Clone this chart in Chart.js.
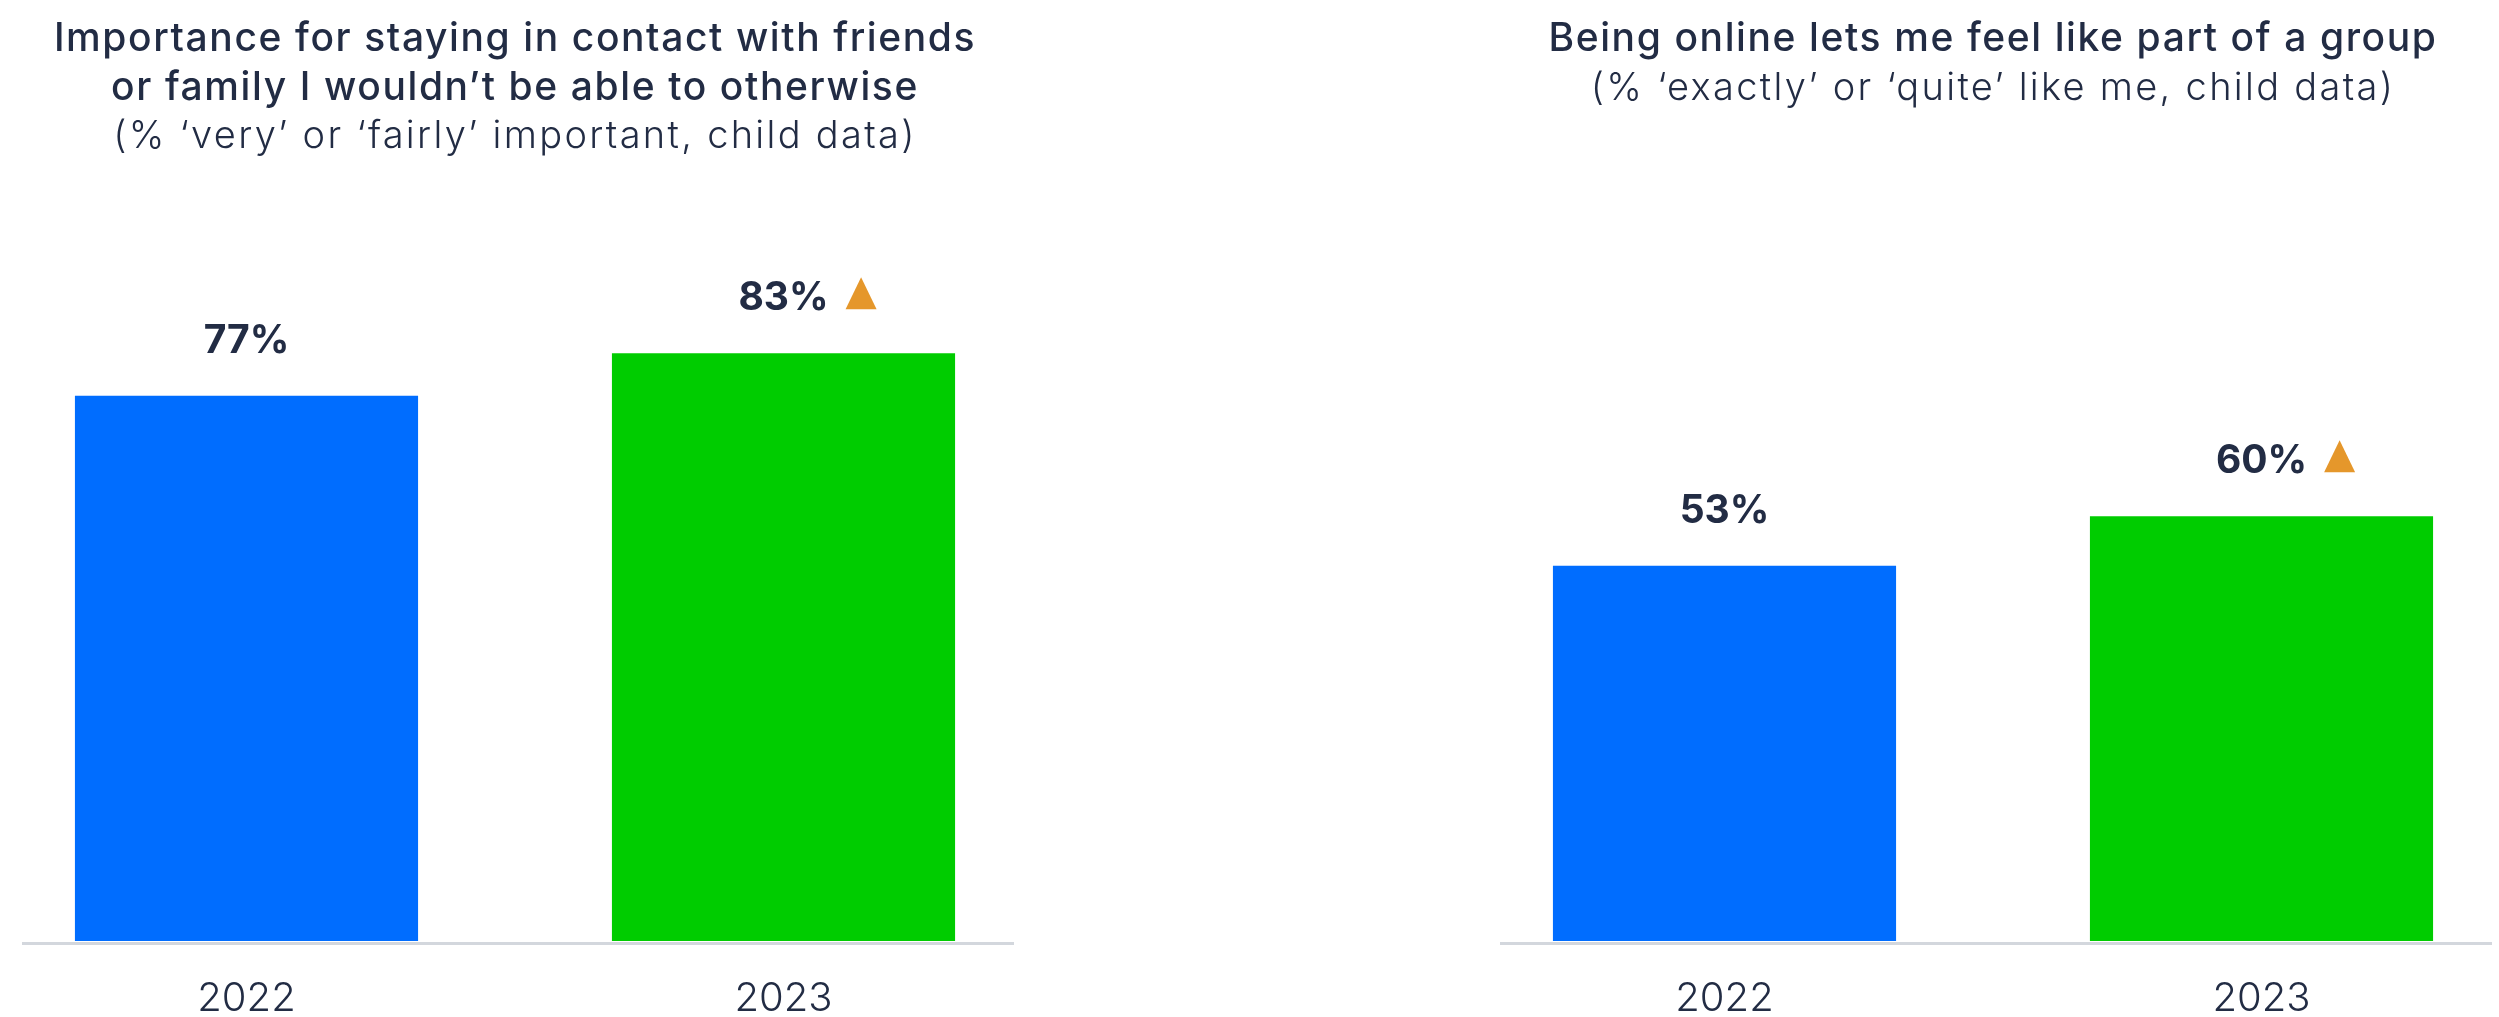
<!DOCTYPE html>
<html>
<head>
<meta charset="utf-8">
<script src="https://cdn.jsdelivr.net/npm/chart.js@4.4.0/dist/chart.umd.min.js"></script>
<style>
  html, body { margin: 0; padding: 0; background: #fff; overflow: hidden; }
  body { width: 2499px; height: 1017px; position: relative; }
  canvas { position: absolute; top: 0; display: block; }
  #contactChart { left: -22px; }
  #groupChart { left: 1456px; }
</style>
</head>
<body>
<!-- canvases run a little past the bottom edge: the x axis reserves its tick padding twice -->
<canvas id="contactChart" width="1074" height="1057"></canvas>
<canvas id="groupChart" width="1074" height="1057"></canvas>
<script>
const years = ['2022', '2023'];
const contactValues = [77, 83];
const groupValues = [53, 60];
// true where the year-on-year change is flagged with an up arrow
const contactRise = [false, true];
const groupRise = [false, true];

const contactTitle = ['Importance for staying in contact with friends', 'or family I wouldn\u2019t be able to otherwise'];
const contactSubtitle = '(% \u2018very\u2019 or \u2018fairly\u2019 important, child data)';
const groupTitle = ['Being online lets me feel like part of a group'];
const groupSubtitle = '(% \u2018exactly\u2019 or \u2018quite\u2019 like me, child data)';

const ink = '#222c44';
const barColours = ['#006dff', '#00cc00'];
const arrowColour = '#e5972b';
const fontFamily = 'Inter, "Open Sans", sans-serif';

// heading block: title lines then the lighter subtitle, centred on the plot
const headingPlugin = {
  id: 'heading',
  afterDraw(chart, args, opts) {
    const ctx = chart.ctx;
    const cx = (chart.chartArea.left + chart.chartArea.right) / 2;
    ctx.save();
    ctx.fillStyle = ink;
    ctx.textAlign = 'center';
    ctx.textBaseline = 'alphabetic';
    ctx.font = '500 39px ' + fontFamily;
    ctx.letterSpacing = '1.6px';
    opts.title.forEach((line, i) => ctx.fillText(line, cx, 51 + i * 48.5));
    ctx.font = '300 38px ' + fontFamily;
    ctx.letterSpacing = '2.3px';
    ctx.fillText(opts.subtitle, cx, 51 + opts.title.length * 48.5);
    ctx.restore();
  }
};

// grey baseline under the bars, a bit narrower than the category band
const baselinePlugin = {
  id: 'baseline',
  afterDatasetsDraw(chart) {
    const ctx = chart.ctx;
    const x = chart.scales.x;
    const y = chart.chartArea.bottom + 2.5;
    ctx.save();
    ctx.strokeStyle = '#d3d7dd';
    ctx.lineWidth = 3;
    ctx.beginPath();
    ctx.moveTo(x.getPixelForValue(0) - 224.5, y);
    ctx.lineTo(x.getPixelForValue(1) + 230.5, y);
    ctx.stroke();
    ctx.restore();
  }
};

// percentage above each bar, plus the orange triangle when flagged
const valueLabelPlugin = {
  id: 'valueLabels',
  afterDatasetsDraw(chart, args, opts) {
    const ctx = chart.ctx;
    const meta = chart.getDatasetMeta(0);
    const values = chart.data.datasets[0].data;
    ctx.save();
    ctx.font = 'bold 39px ' + fontFamily;
    ctx.fillStyle = ink;
    ctx.textAlign = 'center';
    ctx.textBaseline = 'alphabetic';
    meta.data.forEach((bar, i) => {
      const text = values[i] + '%';
      ctx.fillText(text, bar.x, bar.y - 43);
      if (opts.rise[i]) {
        const left = bar.x + ctx.measureText(text).width / 2 + 17;
        ctx.fillStyle = arrowColour;
        ctx.beginPath();
        ctx.moveTo(left, bar.y - 44);
        ctx.lineTo(left + 31, bar.y - 44);
        ctx.lineTo(left + 15.5, bar.y - 76);
        ctx.closePath();
        ctx.fill();
        ctx.fillStyle = ink;
      }
    });
    ctx.restore();
  }
};

function makeChart(canvasId, values, rise, title, subtitle) {
  return new Chart(document.getElementById(canvasId), {
    type: 'bar',
    data: {
      labels: years,
      datasets: [{
        data: values,
        backgroundColor: barColours,
        borderWidth: 0,
        barPercentage: 0.639,
        categoryPercentage: 1
      }]
    },
    options: {
      responsive: false,
      animation: false,
      layout: { padding: { top: 233, left: 0, right: 0, bottom: 0 } },
      plugins: {
        legend: { display: false },
        tooltip: { enabled: false },
        heading: { title: title, subtitle: subtitle },
        valueLabels: { rise: rise }
      },
      scales: {
        x: {
          grid: { display: false, drawTicks: false },
          border: { display: false },
          ticks: {
            color: ink,
            padding: 36,
            font: { family: fontFamily, size: 40, weight: '300', lineHeight: 1.1 }
          }
        },
        y: {
          display: false,
          min: 0,
          max: 100
        }
      }
    },
    plugins: [headingPlugin, baselinePlugin, valueLabelPlugin]
  });
}

makeChart('contactChart', contactValues, contactRise, contactTitle, contactSubtitle);
makeChart('groupChart', groupValues, groupRise, groupTitle, groupSubtitle);
</script>
</body>
</html>
